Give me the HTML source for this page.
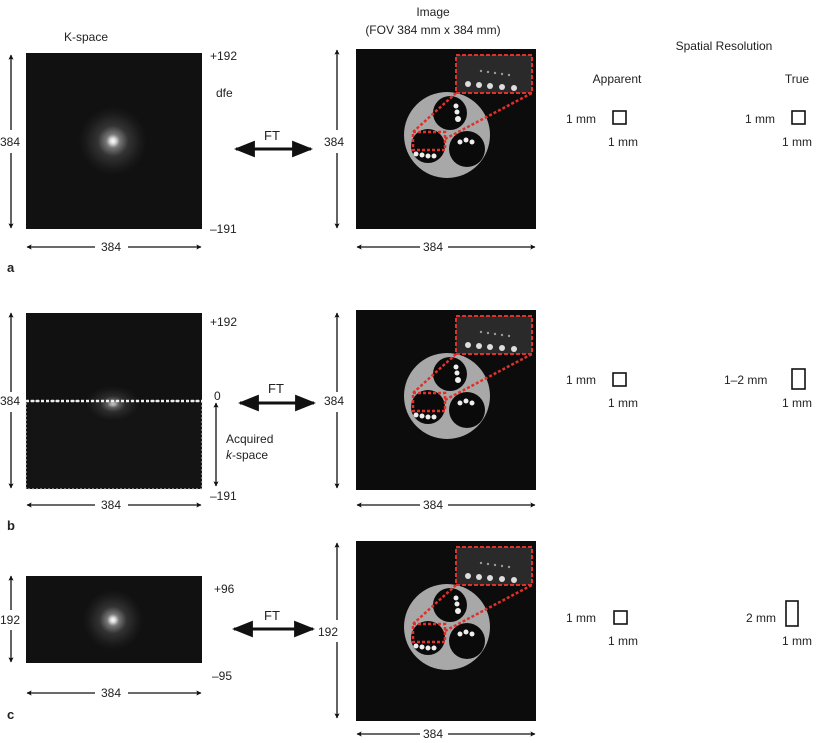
<!DOCTYPE html>
<html><head><meta charset="utf-8"><style>
body{margin:0;background:#fff}
svg{display:block;font-family:"Liberation Sans",Arial,sans-serif;font-size:12px;fill:#222}
</style></head><body>
<svg width="817" height="743" viewBox="0 0 817 743" xmlns="http://www.w3.org/2000/svg">
<defs>
<marker id="ah" viewBox="0 0 10 10" refX="9" refY="5" markerWidth="7" markerHeight="7" orient="auto-start-reverse"><path d="M0,1 L10,5 L0,9 Z" fill="#111"/></marker>
<marker id="bh" viewBox="0 0 10 10" refX="9" refY="5" markerWidth="4" markerHeight="4" orient="auto-start-reverse"><path d="M0,0 L10,5 L0,10 L2,5 Z" fill="#111"/></marker>
<radialGradient id="glow"><stop offset="0" stop-color="#fff"/><stop offset="0.08" stop-color="#ddd"/><stop offset="0.2" stop-color="#777"/><stop offset="0.45" stop-color="#333"/><stop offset="0.8" stop-color="#1a1a1a"/><stop offset="1" stop-color="#111"/></radialGradient>
<g id="ph">
<rect x="0" y="0" width="180" height="180" fill="#0c0c0c"/>
<circle cx="91" cy="86" r="43" fill="#a8a8a8"/>
<circle cx="94" cy="64" r="17" fill="#0a0a0a"/>
<circle cx="72" cy="97" r="17" fill="#0a0a0a"/>
<circle cx="111" cy="100" r="18" fill="#0a0a0a"/>
<g fill="#eee"><circle cx="100" cy="57" r="2.5"/><circle cx="101" cy="63" r="2.5"/><circle cx="102" cy="70" r="3"/><circle cx="60" cy="105" r="2.5"/><circle cx="66" cy="106" r="2.5"/><circle cx="72" cy="107" r="2.5"/><circle cx="78" cy="107" r="2.5"/><circle cx="104" cy="93" r="2.5"/><circle cx="110" cy="91" r="2.5"/><circle cx="116" cy="93" r="2.5"/></g>
<rect x="100" y="6" width="76" height="38" fill="#2a2a2a"/>
<g fill="#ddd"><circle cx="112" cy="35" r="3"/><circle cx="123" cy="36" r="3"/><circle cx="134" cy="37" r="3"/><circle cx="146" cy="38" r="3"/><circle cx="158" cy="39" r="3"/></g>
<g fill="#999"><circle cx="125" cy="22" r="1.2"/><circle cx="132" cy="23" r="1.2"/><circle cx="139" cy="24" r="1.2"/><circle cx="146" cy="25" r="1.2"/><circle cx="153" cy="26" r="1.2"/></g>
<rect x="100" y="6" width="76" height="38" fill="none" stroke="#e0302a" stroke-width="2" stroke-dasharray="4,2"/>
<rect x="57" y="83" width="32" height="18" fill="none" stroke="#e0302a" stroke-width="2.5" stroke-dasharray="3,2"/>
<line x1="57" y1="83" x2="100" y2="44" stroke="#e0302a" stroke-width="2.5" stroke-dasharray="3,2"/>
<line x1="89" y1="90" x2="176" y2="44" stroke="#e0302a" stroke-width="2.5" stroke-dasharray="3,2"/>
</g>
</defs>

<text x="86" y="41" text-anchor="middle">K-space</text>
<text x="433" y="16" text-anchor="middle">Image</text>
<text x="433" y="34" text-anchor="middle">(FOV 384 mm x 384 mm)</text>
<text x="724" y="50" text-anchor="middle">Spatial Resolution</text>
<text x="617" y="83" text-anchor="middle">Apparent</text>
<text x="797" y="83" text-anchor="middle">True</text>

<g stroke="#111" stroke-width="1.3" fill="none">
<line x1="11" y1="55" x2="11" y2="130" marker-start="url(#bh)"/><line x1="11" y1="153" x2="11" y2="228" marker-end="url(#bh)"/>
<line x1="27" y1="247" x2="95" y2="247" marker-start="url(#bh)"/><line x1="128" y1="247" x2="201" y2="247" marker-end="url(#bh)"/>
<line x1="337" y1="50" x2="337" y2="130" marker-start="url(#bh)"/><line x1="337" y1="153" x2="337" y2="228" marker-end="url(#bh)"/>
<line x1="357" y1="247" x2="420" y2="247" marker-start="url(#bh)"/><line x1="448" y1="247" x2="535" y2="247" marker-end="url(#bh)"/>
<line x1="11" y1="313" x2="11" y2="392" marker-start="url(#bh)"/><line x1="11" y1="412" x2="11" y2="488" marker-end="url(#bh)"/>
<line x1="27" y1="505" x2="95" y2="505" marker-start="url(#bh)"/><line x1="128" y1="505" x2="201" y2="505" marker-end="url(#bh)"/>
<line x1="216" y1="403" x2="216" y2="486" marker-start="url(#bh)" marker-end="url(#bh)"/>
<line x1="337" y1="313" x2="337" y2="392" marker-start="url(#bh)"/><line x1="337" y1="412" x2="337" y2="488" marker-end="url(#bh)"/>
<line x1="357" y1="505" x2="420" y2="505" marker-start="url(#bh)"/><line x1="448" y1="505" x2="535" y2="505" marker-end="url(#bh)"/>
<line x1="11" y1="576" x2="11" y2="610" marker-start="url(#bh)"/><line x1="11" y1="630" x2="11" y2="662" marker-end="url(#bh)"/>
<line x1="27" y1="693" x2="95" y2="693" marker-start="url(#bh)"/><line x1="128" y1="693" x2="201" y2="693" marker-end="url(#bh)"/>
<line x1="337" y1="543" x2="337" y2="620" marker-start="url(#bh)"/><line x1="337" y1="642" x2="337" y2="718" marker-end="url(#bh)"/>
<line x1="357" y1="734" x2="420" y2="734" marker-start="url(#bh)"/><line x1="448" y1="734" x2="535" y2="734" marker-end="url(#bh)"/>
</g>
<g stroke="#111" stroke-width="3" fill="none">
<line x1="236" y1="149" x2="311" y2="149" marker-start="url(#ah)" marker-end="url(#ah)"/>
<line x1="240" y1="403" x2="314" y2="403" marker-start="url(#ah)" marker-end="url(#ah)"/>
<line x1="234" y1="629" x2="313" y2="629" marker-start="url(#ah)" marker-end="url(#ah)"/>
</g>

<rect x="26" y="53" width="176" height="176" fill="#111"/>
<circle cx="113" cy="141" r="34" fill="url(#glow)"/>
<rect x="26" y="313" width="176" height="176" fill="#111"/>
<rect x="26" y="401" width="176" height="88" fill="#141414" stroke="#ddd" stroke-width="1" stroke-dasharray="2,2"/>
<ellipse cx="113" cy="404" rx="28" ry="18" fill="url(#glow)" opacity="0.75"/>
<line x1="26" y1="401" x2="202" y2="401" stroke="#eee" stroke-width="2.5" stroke-dasharray="3,2"/>
<rect x="26" y="576" width="176" height="87" fill="#111"/>
<circle cx="113" cy="620" r="30" fill="url(#glow)"/>

<use href="#ph" x="356" y="49"/>
<use href="#ph" x="356" y="310"/>
<use href="#ph" x="356" y="541"/>

<text x="0" y="146">384</text><text x="111" y="251" text-anchor="middle">384</text>
<text x="210" y="60">+192</text><text x="216" y="97">dfe</text><text x="210" y="233">–191</text>
<text x="272" y="140" text-anchor="middle" font-size="13">FT</text>
<text x="324" y="146">384</text><text x="433" y="251" text-anchor="middle">384</text>
<text x="7" y="272" font-weight="bold" font-size="13">a</text>

<text x="0" y="405">384</text><text x="111" y="509" text-anchor="middle">384</text>
<text x="210" y="326">+192</text><text x="214" y="400">0</text>
<text x="226" y="443">Acquired</text><text x="226" y="459"><tspan font-style="italic">k</tspan>-space</text>
<text x="210" y="500">–191</text>
<text x="276" y="393" text-anchor="middle" font-size="13">FT</text>
<text x="324" y="405">384</text><text x="433" y="509" text-anchor="middle">384</text>
<text x="7" y="530" font-weight="bold" font-size="13">b</text>

<text x="0" y="624">192</text><text x="111" y="697" text-anchor="middle">384</text>
<text x="214" y="593">+96</text><text x="212" y="680">–95</text>
<text x="272" y="620" text-anchor="middle" font-size="13">FT</text>
<text x="318" y="636">192</text><text x="433" y="738" text-anchor="middle">384</text>
<text x="7" y="719" font-weight="bold" font-size="13">c</text>

<g stroke="#111" stroke-width="1.6" fill="none">
<rect x="613" y="111" width="13" height="13"/><rect x="792" y="111" width="13" height="13"/>
<rect x="613" y="373" width="13" height="13"/><rect x="792" y="369" width="13" height="20"/>
<rect x="614" y="611" width="13" height="13"/><rect x="786" y="601" width="12" height="25"/>
</g>
<text x="566" y="123">1 mm</text><text x="608" y="146">1 mm</text>
<text x="745" y="123">1 mm</text><text x="782" y="146">1 mm</text>
<text x="566" y="384">1 mm</text><text x="608" y="407">1 mm</text>
<text x="724" y="384">1–2 mm</text><text x="782" y="407">1 mm</text>
<text x="566" y="622">1 mm</text><text x="608" y="645">1 mm</text>
<text x="746" y="622">2 mm</text><text x="782" y="645">1 mm</text>
</svg>
</body></html>
